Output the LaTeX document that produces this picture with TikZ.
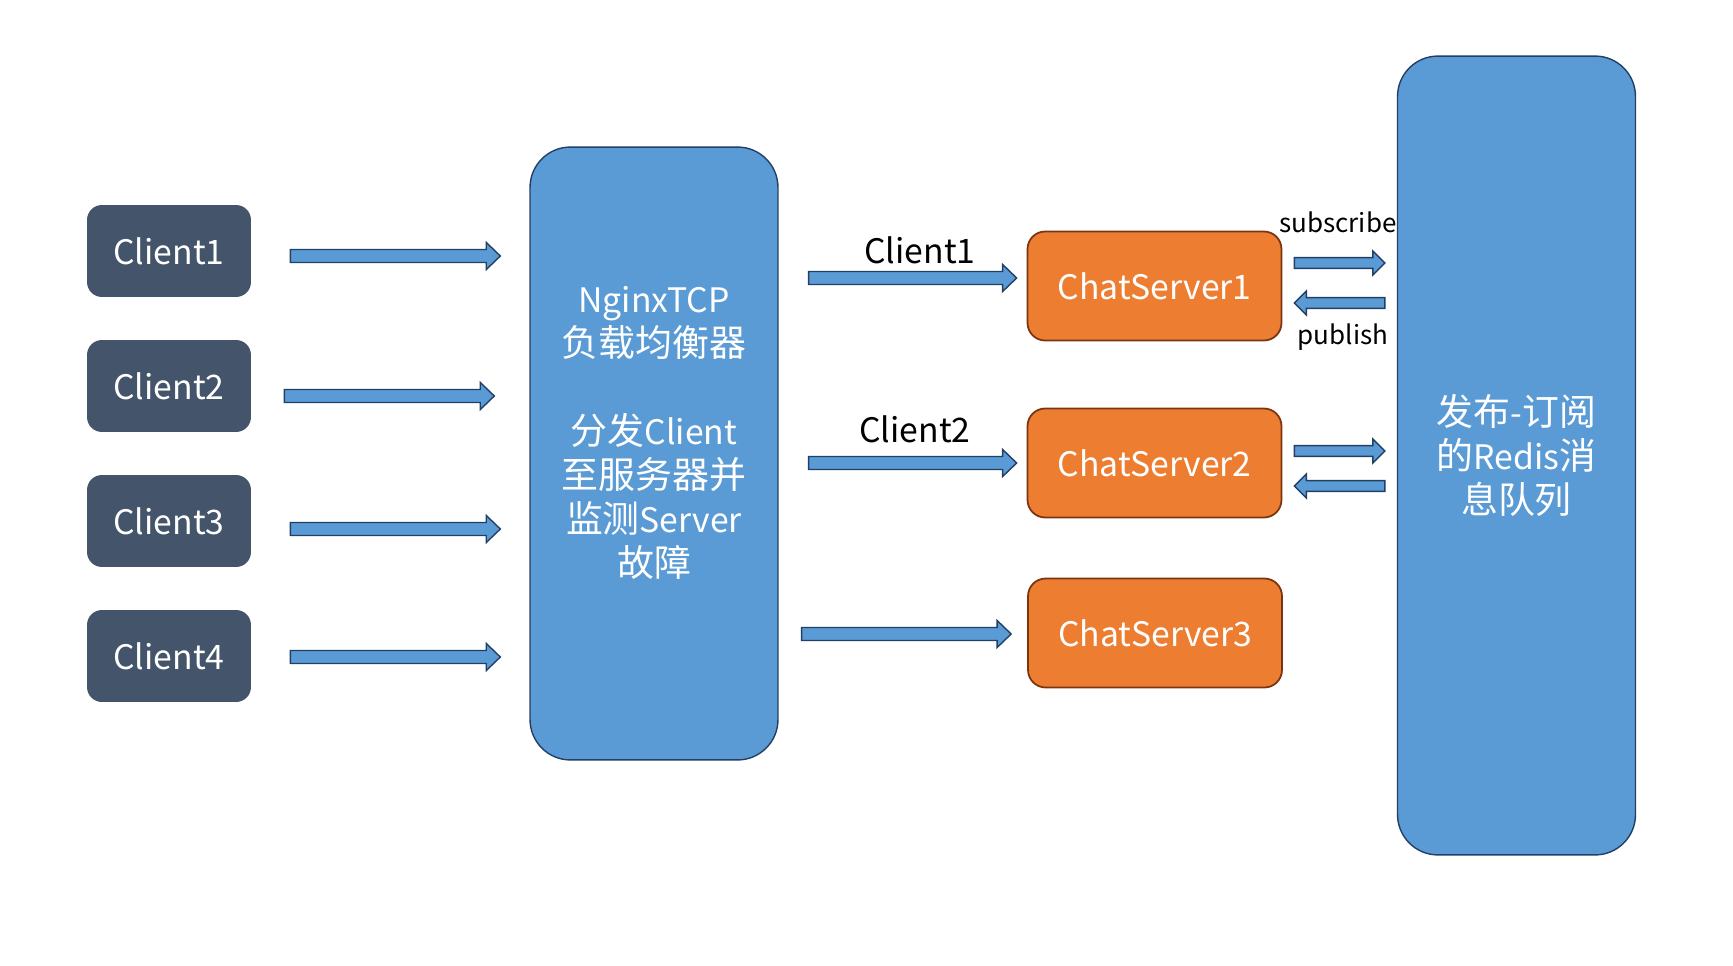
\documentclass[tikz,border=0pt]{standalone}
\usepackage{fontspec}
\setmainfont{Noto Sans CJK SC}
\usetikzlibrary{calc}

\definecolor{slate}{HTML}{44546A}
\definecolor{skyblue}{HTML}{5B9BD5}
\definecolor{navy}{HTML}{223F66}
\definecolor{chatorange}{HTML}{ED7D31}
\definecolor{chatbrown}{HTML}{7A3510}
\newcommand{\boxfont}{\fontsize{21}{25}\selectfont}
\newcommand{\latfont}{\fontsize{19.2}{25}\selectfont}
\newcommand{\tagfont}{\fontsize{14.8}{19}\selectfont}
\newcommand{\lat}[1]{{\latfont #1}}

\begin{document}
\begin{tikzpicture}[
  x=0.02cm, y=-0.02cm,
  client/.style={fill=slate, rounded corners=8.5pt, minimum width=3.28cm, minimum height=1.84cm, text=white, font=\latfont},
  hub/.style={draw=navy, line width=0.8pt, fill=skyblue, rounded corners=23pt, align=center, text=white, font=\boxfont},
  chat/.style={draw=chatbrown, line width=1pt, fill=chatorange, rounded corners=10pt, minimum width=5.08cm, minimum height=2.18cm, text=white, font=\latfont},
  lbl/.style={font=\latfont, inner sep=0pt},
  tag/.style={font=\tagfont, inner sep=0pt},
  blockto/.style n args={3}{to path={let \p1=(\tikztostart), \p2=(\tikztotarget), \n1={sign(\x2-\x1)} in
    (\x1,{\y1+#1}) -- ({\x2-(\n1)*#3},{\y1+#1}) -- ({\x2-(\n1)*#3},{\y1+#2}) -- (\x2,\y1)
    -- ({\x2-(\n1)*#3},{\y1-#2}) -- ({\x2-(\n1)*#3},{\y1-#1}) -- (\x1,{\y1-#1}) -- cycle}},
  flow/.style={draw=navy, line width=0.8pt, fill=skyblue, blockto={3.7pt}{7.7pt}{8pt}},
  flowsm/.style={draw=navy, line width=0.8pt, fill=skyblue, blockto={3.1pt}{6.8pt}{6.8pt}},
]
  \useasboundingbox (0,0) rectangle (1733,966);

  \node[client] (c1) at (169,251) {Client1};
  \node[client] (c2) at (169,386) {Client2};
  \node[client] (c3) at (169,521) {Client3};
  \node[client] (c4) at (169,656) {Client4};

  \node[hub, minimum width=4.96cm, minimum height=12.26cm] (ngx) at (654,453.5)
    {\lat{NginxTCP}\\负载均衡器\\[25pt]分发\lat{Client}\\至服务器并\\监测\lat{Server}\\故障\\\mbox{}};
  \node[hub, minimum width=4.76cm, minimum height=15.98cm] (rds) at (1516.5,455.5)
    {发布\lat{-}订阅\\的\lat{Redis}消\\息队列};

  \node[chat] (s1) at (1154.5,286) {ChatServer1};
  \node[chat] (s2) at (1154.5,463) {ChatServer2};
  \node[chat] (s3) at (1155,633) {ChatServer3};

  \draw[flow] ($(c1.east)+(39,5)$) to ($(ngx.west)+(-29,0)$);
  \draw[flow] ($(c2.east)+(33,10)$) to ($(ngx.west)+(-35,0)$);
  \draw[flow] ($(c3.east)+(39,8)$) to ($(ngx.west)+(-29,0)$);
  \draw[flow] ($(c4.east)+(39,1)$) to ($(ngx.west)+(-29,0)$);

  \draw[flow] ($(ngx.east |- s1.west)+(30,-8)$) to ($(s1.west)+(-10,0)$);
  \draw[flow] ($(ngx.east |- s2.west)+(30,0)$) to ($(s2.west)+(-10,0)$);
  \draw[flow] ($(ngx.east |- s3.west)+(23,1)$) to ($(s3.west)+(-16,0)$);
  \node[lbl] (l1) at (920,250) {Client1};
  \node[lbl] (l2) at (915,429) {Client2};

  \draw[flowsm] ($(s1.east)+(12,-23)$) to ($(rds.west)+(-12,0)$);
  \draw[flowsm] ($(rds.west |- s1.east)+(-12,17)$) to ($(s1.east)+(12,0)$);
  \draw[flowsm] ($(s2.east)+(12,-12)$) to ($(rds.west)+(-12,0)$);
  \draw[flowsm] ($(rds.west |- s2.east)+(-12,23)$) to ($(s2.east)+(12,0)$);
  \node[tag] (sub) at (1338,222) {subscribe};
  \node[tag] (pub) at (1343,337) {publish};
\end{tikzpicture}
\end{document}
